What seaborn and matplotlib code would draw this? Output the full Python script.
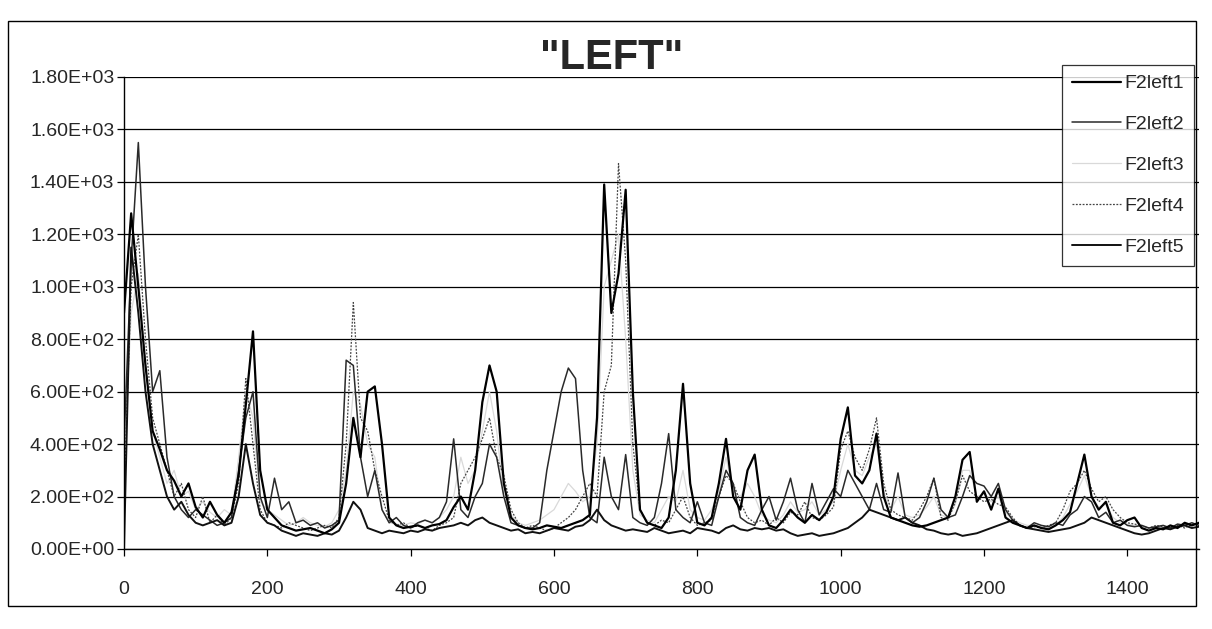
import numpy as np
import pandas as pd
import matplotlib
matplotlib.use("Agg")
import matplotlib.pyplot as plt
from matplotlib.ticker import FuncFormatter
from matplotlib.patches import Rectangle
from matplotlib.lines import Line2D
import seaborn as sns

# ---------------- data (x step of 10 samples, 0..1500) ----------------
x_values = list(range(0, 1501, 10))

f2left1 = [900, 1280, 1000, 700, 450, 380, 300, 260, 200, 250,
           160, 120, 180, 130, 100, 140, 280, 550, 830, 300,
           150, 120, 90, 80, 70, 75, 80, 70, 60, 75,
           100, 250, 500, 350, 600, 620, 400, 120, 90, 80,
           85, 90, 80, 90, 95, 110, 160, 200, 150, 300,
           560, 700, 600, 250, 120, 90, 80, 75, 80, 90,
           85, 80, 90, 100, 110, 130, 500, 1390, 900, 1050,
           1370, 600, 150, 100, 90, 80, 120, 300, 630, 250,
           100, 90, 120, 250, 420, 200, 150, 300, 360, 150,
           90, 80, 110, 150, 120, 100, 130, 110, 140, 200,
           420, 540, 280, 250, 300, 440, 200, 120, 110, 100,
           90, 85, 90, 100, 110, 120, 200, 340, 370, 180,
           220, 150, 230, 120, 100, 90, 80, 90, 80, 75,
           90, 110, 140, 250, 360, 200, 150, 180, 100, 90,
           110, 120, 80, 70, 80, 75, 90, 80, 100, 90, 100]

f2left2 = [400, 1100, 1550, 1000, 600, 680, 350, 200, 150, 120,
           150, 130, 110, 90, 100, 120, 300, 500, 600, 200,
           120, 270, 150, 180, 100, 110, 90, 100, 80, 90,
           110, 720, 700, 350, 200, 300, 150, 100, 120, 90,
           80, 100, 110, 100, 120, 180, 420, 150, 120, 200,
           250, 400, 350, 200, 100, 90, 80, 80, 100, 300,
           450, 600, 690, 650, 300, 120, 100, 350, 200, 150,
           360, 120, 100, 90, 120, 250, 440, 150, 120, 100,
           180, 100, 90, 200, 300, 250, 120, 100, 90, 150,
           200, 110, 180, 270, 150, 100, 250, 130, 180, 230,
           200, 300, 250, 200, 150, 250, 150, 140, 290, 120,
           100, 120, 180, 270, 150, 120, 130, 200, 280, 250,
           240, 200, 250, 150, 110, 90, 80, 100, 90, 85,
           100, 90, 130, 150, 200, 180, 120, 140, 100, 110,
           90, 85, 90, 80, 85, 90, 80, 95, 90, 100, 90]

f2left3 = [300, 900, 1050, 700, 450, 350, 250, 300, 200, 220,
           150, 180, 140, 120, 150, 130, 350, 600, 500, 180,
           150, 130, 110, 90, 100, 120, 100, 90, 85, 100,
           150, 300, 600, 550, 400, 350, 150, 100, 95, 90,
           100, 95, 110, 100, 120, 150, 200, 350, 250, 300,
           450, 600, 450, 200, 130, 100, 90, 100, 110, 130,
           150, 200, 250, 220, 180, 200, 400, 1000, 1100, 1200,
           800, 300, 130, 110, 100, 150, 200, 180, 300, 150,
           120, 110, 150, 220, 350, 220, 200, 250, 200, 130,
           110, 100, 130, 180, 140, 150, 180, 130, 150, 180,
           300, 400, 300, 280, 350, 400, 220, 150, 200, 130,
           120, 130, 160, 200, 130, 120, 170, 300, 300, 200,
           210, 180, 200, 140, 110, 100, 90, 90, 85, 80,
           90, 120, 170, 220, 280, 200, 160, 170, 120, 100,
           95, 90, 85, 80, 85, 80, 85, 90, 85, 90, 95]

f2left4 = [200, 1000, 1200, 800, 500, 400, 300, 200, 250, 150,
           120, 200, 100, 130, 90, 120, 250, 650, 400, 150,
           100, 90, 80, 100, 90, 80, 70, 80, 90, 80,
           120, 400, 940, 500, 450, 300, 200, 110, 90, 100,
           80, 90, 80, 70, 90, 100, 120, 250, 300, 350,
           420, 500, 350, 280, 150, 100, 80, 90, 80, 70,
           80, 100, 120, 150, 200, 250, 200, 600, 700, 1470,
           1100, 400, 150, 100, 90, 110, 100, 150, 200, 120,
           90, 100, 110, 200, 280, 250, 180, 120, 100, 110,
           90, 120, 100, 140, 130, 180, 120, 110, 130, 160,
           380, 450, 350, 300, 380, 500, 250, 150, 130, 120,
           110, 150, 200, 270, 120, 110, 180, 280, 220, 200,
           180, 190, 170, 160, 120, 90, 80, 85, 80, 90,
           100, 150, 220, 250, 300, 230, 180, 200, 150, 120,
           100, 95, 90, 80, 90, 85, 80, 90, 80, 95, 90]

f2left5 = [0, 1150, 900, 600, 400, 300, 200, 150, 180, 130,
           100, 90, 100, 110, 90, 100, 200, 400, 250, 130,
           100, 90, 70, 60, 50, 60, 55, 50, 60, 55,
           70, 120, 180, 150, 80, 70, 60, 70, 65, 60,
           70, 65, 75, 70, 80, 85, 90, 100, 90, 110,
           120, 100, 90, 80, 70, 75, 60, 65, 60, 70,
           80, 75, 70, 85, 90, 110, 150, 110, 90, 80,
           70, 75, 70, 65, 80, 70, 60, 65, 70, 60,
           80, 75, 70, 60, 80, 90, 75, 70, 80, 75,
           80, 70, 75, 60, 50, 55, 60, 50, 55, 60,
           70, 80, 100, 120, 150, 140, 130, 120, 110, 120,
           100, 90, 75, 70, 60, 55, 60, 50, 55, 60,
           70, 80, 90, 100, 110, 90, 80, 75, 70, 65,
           70, 75, 80, 90, 100, 120, 110, 100, 90, 80,
           70, 60, 55, 60, 70, 80, 75, 85, 90, 80, 85]

series_names = ["F2left1", "F2left2", "F2left3", "F2left4", "F2left5"]
series_values = [f2left1, f2left2, f2left3, f2left4, f2left5]
y_ticks = [0, 200, 400, 600, 800, 1000, 1200, 1400, 1600, 1800]
x_ticks = [0, 200, 400, 600, 800, 1000, 1200, 1400]
title_text = '"LEFT"'

# ---------------- styling ----------------
sns.set_theme(style="white")
plt.rcParams["font.family"] = ["Liberation Sans", "DejaVu Sans"]

styles = {
    "F2left1": dict(color="#000000", lw=1.6, ls="-"),
    "F2left2": dict(color="#2a2a2a", lw=1.1, ls="-"),
    "F2left3": dict(color="#d9d9d9", lw=0.9, ls="-"),
    "F2left4": dict(color="#444444", lw=0.9, ls=(0, (1.5, 1.2))),
    "F2left5": dict(color="#111111", lw=1.4, ls="-"),
}

fig = plt.figure(figsize=(12.12, 6.29), dpi=100)
ax = fig.add_axes([0.1023, 0.1272, 0.887, 0.7504])

frames = []
for name, vals in zip(series_names, series_values):
    frames.append(pd.DataFrame({"x": x_values, "y": vals, "series": name}))
df = pd.concat(frames, ignore_index=True)

for name in ["F2left3", "F2left4", "F2left2", "F2left5", "F2left1"]:
    st = styles[name]
    sns.lineplot(data=df[df["series"] == name], x="x", y="y", ax=ax,
                 color=st["color"], linewidth=st["lw"], linestyle=st["ls"],
                 legend=False, estimator=None, sort=False)

handles = []
for name in series_names:
    st = styles[name]
    handles.append(Line2D([], [], color=st["color"], lw=st["lw"], ls=st["ls"], label=name))

ax.set_xlim(0, 1500)
ax.set_ylim(0, 1800)
ax.set_xticks(x_ticks)
ax.set_yticks(y_ticks)
ax.yaxis.set_major_formatter(FuncFormatter(lambda v, p: f"{v:.2E}"))
ax.set_xlabel("")
ax.set_ylabel("")
ax.grid(axis="y", color="black", lw=0.9)
ax.grid(axis="x", visible=False)
for s in ["top", "right"]:
    ax.spines[s].set_visible(False)
for s in ["left", "bottom"]:
    ax.spines[s].set_color("black")
    ax.spines[s].set_linewidth(1.0)
ax.tick_params(axis="y", direction="out", length=5, width=0.9, color="black",
               labelsize=14, pad=2, left=True)
ax.tick_params(axis="x", direction="out", length=5, width=0.9, color="black",
               labelsize=14, pad=18, bottom=True)

fig.text(612 / 1212, 1 - 58 / 629, title_text, ha="center", va="center",
         fontsize=30, fontweight="bold")

leg = fig.legend(handles=handles, loc="upper right",
                 bbox_to_anchor=(1194 / 1212, 1 - 65 / 629),
                 fontsize=14, frameon=True, fancybox=False, labelspacing=1.2,
                 handlelength=2.5, handletextpad=0.2, borderpad=0.5,
                 borderaxespad=0)
leg.get_frame().set_edgecolor("black")
leg.get_frame().set_linewidth(0.9)

# outer chart border
fig.patches.append(Rectangle((8 / 1212, 1 - 606 / 629), (1196 - 8) / 1212,
                             (606 - 21) / 629, transform=fig.transFigure,
                             fill=False, edgecolor="black", lw=1.0))

fig.savefig("out.png", dpi=100, facecolor="white")
